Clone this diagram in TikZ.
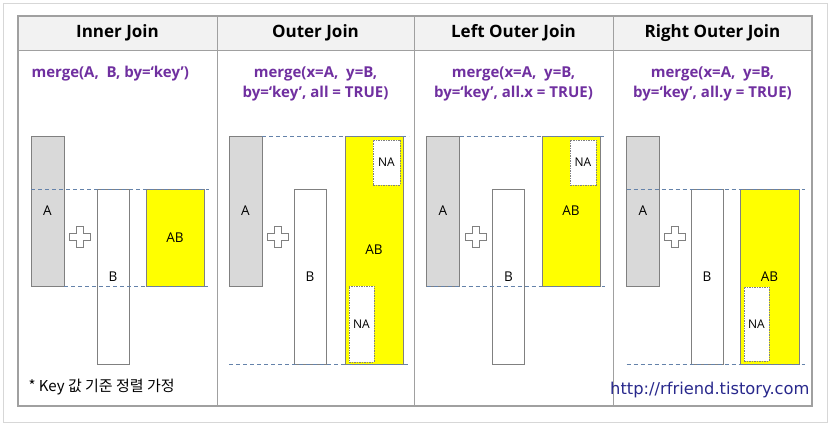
\documentclass[tikz,border=0pt]{standalone}
\usepackage{fontspec}
\setmainfont{Open Sans}
\newfontfamily\hangul{Noto Sans CJK KR}
\newfontfamily\urlfont{DejaVu Sans}
\usepackage{xcolor}
\usetikzlibrary{positioning}
\definecolor{hdrfill}{RGB}{242,242,242}
\definecolor{gridline}{RGB}{160,160,160}
\definecolor{framegray}{RGB}{215,215,215}
\definecolor{boxgray}{RGB}{217,217,217}
\definecolor{boxline}{RGB}{128,128,128}
\definecolor{joinyellow}{RGB}{255,255,0}
\definecolor{mergepurple}{RGB}{112,48,160}
\definecolor{guideblue}{RGB}{100,130,170}
\definecolor{urlblue}{RGB}{40,40,140}

\tikzset{
  tbl/.style={draw=boxline, line width=0.8pt, inner sep=0pt, outer sep=0pt,
    font=\fontsize{13.5}{15}\selectfont},
  tblA/.style={tbl, fill=boxgray, minimum width=33, minimum height=150},
  tblB/.style={tbl, fill=white, minimum width=32, minimum height=175},
  tblAB/.style={tbl, fill=joinyellow, minimum width=58},
  tblNA/.style={draw=boxline, dashed, dash pattern=on 1.5pt off 1pt, fill=white,
    inner sep=0pt, font=\fontsize{12}{13}\selectfont},
  guide/.style={guideblue, line width=0.7pt, dash pattern=on 4pt off 3pt},
  hdr/.style={font=\bfseries\fontsize{17}{20}\selectfont},
  formula/.style={mergepurple, align=center, font=\bfseries\fontsize{15}{20}\selectfont},
  plussign/.pic={
    \draw[boxline, fill=white, line width=0.7pt]
      (-3.5,-10.5) -- (3.5,-10.5) -- (3.5,-3.5) -- (10.5,-3.5) -- (10.5,3.5)
      -- (3.5,3.5) -- (3.5,10.5) -- (-3.5,10.5) -- (-3.5,3.5) -- (-10.5,3.5)
      -- (-10.5,-3.5) -- (-3.5,-3.5) -- cycle;
  }
}

\begin{document}
\begin{tikzpicture}[x=1pt, y=-1pt]
    \useasboundingbox (0,0) rectangle (831,427);
    \draw[framegray, line width=0.8pt] (3,3) rectangle (827,422);

    % table grid
    \fill[hdrfill] (18,16) rectangle (812,50);
    \draw[gridline, line width=0.8pt] (18,50) -- (812,50);
    \draw[gridline, line width=0.8pt] (217,16) -- (217,406);
    \draw[gridline, line width=0.8pt] (414,16) -- (414,406);
    \draw[gridline, line width=0.8pt] (613,16) -- (613,406);
    \draw[gridline, line width=1.4pt] (18,16) rectangle (812,406);

    % headers
    \node[hdr] (hInner) at (117.5,33) {Inner Join};
    \node[hdr] (hOuter) at (315.5,33) {Outer Join};
    \node[hdr] (hLeft) at (513.5,33) {Left Outer Join};
    \node[hdr] (hRight) at (712.5,33) {Right Outer Join};

    % formulas
    \node[formula, anchor=west] (fInner) at (28,74) {merge(A,\ \ B, by=‘key’)};
    \node[formula] (fOuter) at (315.5,84) {merge(x=A,\ \ y=B,\\by=‘key’,\ all = TRUE)};
    \node[formula] (fLeft) at (513.5,84) {merge(x=A,\ \ y=B,\\by=‘key’,\ all.x = TRUE)};
    \node[formula] (fRight) at (712.5,84) {merge(x=A,\ \ y=B,\\by=‘key’,\ all.y = TRUE)};

    % Inner Join
    \node[tblA] (A1) at (47.5,211) {A};
    \node[tblB] (B1) at (113,276.5) {B};
    \node[tblAB, minimum height=97] (AB1) at (175,237.5) {AB};
    \pic at (80,237) {plussign};
    \draw[guide] (A1.west |- B1.north) -- (209,189);
    \draw[guide] (A1.south east) -- (209,286);

    % Outer Join
    \node[tblA] (A2) at (245.5,211) {A};
    \node[tblB] (B2) at (310,276.5) {B};
    \node[tblAB, minimum height=228] (AB2) at (374,250) {AB};
    \node[tblNA, minimum width=27, minimum height=45] (NA2a) at (386.5,162.5) {NA};
    \node[tblNA, minimum width=25, minimum height=76] (NA2b) at (361.5,324) {NA};
    \pic at (278,237) {plussign};
    \draw[guide] (A2.north east) -- (409,136);
    \draw[guide] (A2.west |- B2.south) -- (409,364);

    % Left Outer Join
    \node[tblA] (A3) at (443,211) {A};
    \node[tblB] (B3) at (508.5,276.5) {B};
    \node[tblAB, minimum height=150] (AB3) at (571,211) {AB};
    \node[tblNA, minimum width=26, minimum height=45] (NA3) at (583,162.5) {NA};
    \pic at (476,237) {plussign};
    \draw[guide] (A3.north east) -- (605,136);
    \draw[guide] (A3.south west) -- (605,286);

    % Right Outer Join
    \node[tblA] (A4) at (643,211) {A};
    \node[tblB] (B4) at (707,276.5) {B};
    \node[tblAB, minimum width=59, minimum height=175] (AB4) at (769.5,276.5) {AB};
    \node[tblNA, minimum width=25, minimum height=74] (NA4) at (756.5,324) {NA};
    \pic at (675,237) {plussign};
    \draw[guide] (A4.west |- B4.north) -- (805,189);
    \draw[guide] (A4.west |- B4.south) -- (805,364);

    % notes
    \node[anchor=west, font=\hangul\fontsize{15}{17}\selectfont] (note) at (25,387) {* Key 값 기준 정렬 가정};
    \node[anchor=east, urlblue, font=\urlfont\fontsize{16.3}{18}\selectfont] (url) at (813,390) {http://rfriend.tistory.com};
\end{tikzpicture}
\end{document}
